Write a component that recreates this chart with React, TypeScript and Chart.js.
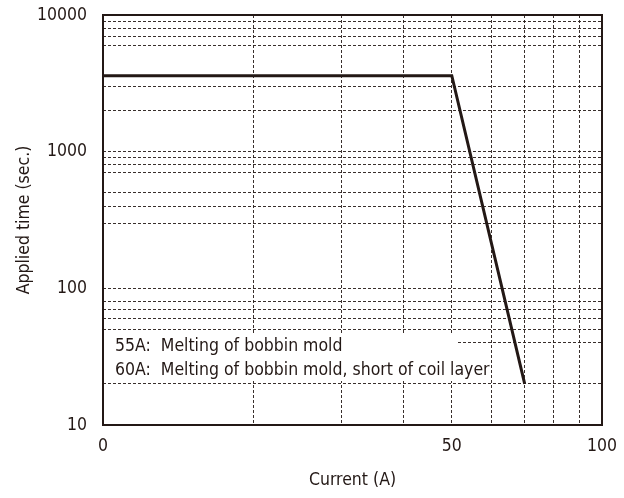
import React, { useEffect, useRef } from 'react';
import { Chart, registerables } from 'chart.js';

Chart.register(...registerables);

// Data
const currents = [10, 50, 70]; // log axis: the left edge (10) is labelled "0"
const appliedTimes = [3600, 3600, 20];

// Grid / tick values
const xGridValues = [10, 20, 30, 40, 50, 60, 70, 80, 90, 100];
const xTickLabels = ['0', '', '', '', '50', '', '', '', '', '100'];
const yGridValues = [10, 20, 40, 50, 60, 70, 80, 100, 300, 400, 500, 700, 800, 900, 1000, 2000, 3000, 6000, 7000, 8000, 9000, 10000];
const yTickLabels = ['10', '100', '1000', '10000'];

const noteLines = ['55A:  Melting of bobbin mold', '60A:  Melting of bobbin mold, short of coil layer'];

const INK = '#231815';
const FONT = "'Liberation Sans Narrow', 'DejaVu Sans Condensed', Roboto, sans-serif";

const notePlugin = {
  id: 'notePlugin',
  beforeDatasetsDraw(chart: any) {
    const { ctx, chartArea } = chart;
    ctx.save();
    ctx.fillStyle = '#ffffff';
    ctx.fillRect(chartArea.left + 1, chartArea.top + 318, 354, 48);
    ctx.fillStyle = INK;
    ctx.font = `17.5px ${FONT}`;
    ctx.textAlign = 'left';
    ctx.textBaseline = 'alphabetic';
    noteLines.forEach((line, i) => {
      ctx.fillText(line, chartArea.left + 12, chartArea.top + 336 + i * 24.3);
    });
    ctx.restore();
  },
};

const framePlugin = {
  id: 'framePlugin',
  afterDraw(chart: any) {
    const { ctx, chartArea } = chart;
    ctx.save();
    ctx.strokeStyle = INK;
    ctx.lineWidth = 2;
    ctx.setLineDash([]);
    ctx.strokeRect(chartArea.left, chartArea.top, chartArea.right - chartArea.left, chartArea.bottom - chartArea.top);
    ctx.restore();
  },
};

export default function App() {
  const canvasRef = useRef<HTMLCanvasElement | null>(null);

  useEffect(() => {
    if (!canvasRef.current) return;
    const chart = new Chart(canvasRef.current, {
      type: 'line',
      data: {
        datasets: [
          {
            data: currents.map((c, i) => ({ x: c, y: appliedTimes[i] })),
            borderColor: INK,
            borderWidth: 3,
            pointRadius: 0,
            tension: 0,
            fill: false,
          },
        ],
      },
      options: {
        animation: false,
        responsive: true,
        maintainAspectRatio: false,
        layout: { padding: { left: 0, right: 22, top: 15, bottom: 0 } },
        plugins: {
          legend: { display: false },
          tooltip: { enabled: false },
        },
        scales: {
          x: {
            type: 'logarithmic',
            min: 10,
            max: 100,
            afterBuildTicks: (scale: any) => {
              scale.ticks = xGridValues.map((v) => ({ value: v }));
            },
            afterFit: (scale: any) => {
              scale.height = 73;
              scale.paddingLeft = 0;
              scale.paddingRight = 0;
            },
            ticks: {
              autoSkip: false,
              maxRotation: 0,
              padding: 11,
              color: INK,
              font: { family: FONT, size: 17.5 },
              callback: (value: any) => {
                const idx = xGridValues.indexOf(Number(value));
                return idx >= 0 ? xTickLabels[idx] : '';
              },
            },
            grid: {
              color: 'rgba(35,24,21,0.9)',
              lineWidth: 1,
              drawTicks: false,
            },
            border: { display: false, dash: [3, 2] },
            title: {
              display: true,
              text: 'Current (A)',
              color: INK,
              font: { family: FONT, size: 17.5 },
              padding: { top: 0, bottom: 7 },
            },
          },
          y: {
            type: 'logarithmic',
            min: 10,
            max: 10000,
            afterBuildTicks: (scale: any) => {
              scale.ticks = yGridValues.map((v) => ({ value: v }));
            },
            afterFit: (scale: any) => {
              scale.width = 103;
              scale.paddingTop = 0;
              scale.paddingBottom = 0;
            },
            ticks: {
              autoSkip: false,
              padding: 16,
              color: INK,
              font: { family: FONT, size: 17.5 },
              callback: (value: any) => (yTickLabels.includes(String(value)) ? String(value) : ''),
            },
            grid: {
              color: 'rgba(35,24,21,0.9)',
              lineWidth: 1,
              drawTicks: false,
            },
            border: { display: false, dash: [3, 2] },
            title: {
              display: true,
              text: 'Applied time (sec.)',
              color: INK,
              font: { family: FONT, size: 17.5 },
              padding: { top: 14, bottom: 0 },
            },
          },
        },
      },
      plugins: [notePlugin, framePlugin],
    });
    return () => chart.destroy();
  }, []);

  return (
    <div style={{ position: 'fixed', left: 0, top: 0, width: 624, height: 498, background: '#fff' }}>
      <canvas ref={canvasRef} />
    </div>
  );
}
